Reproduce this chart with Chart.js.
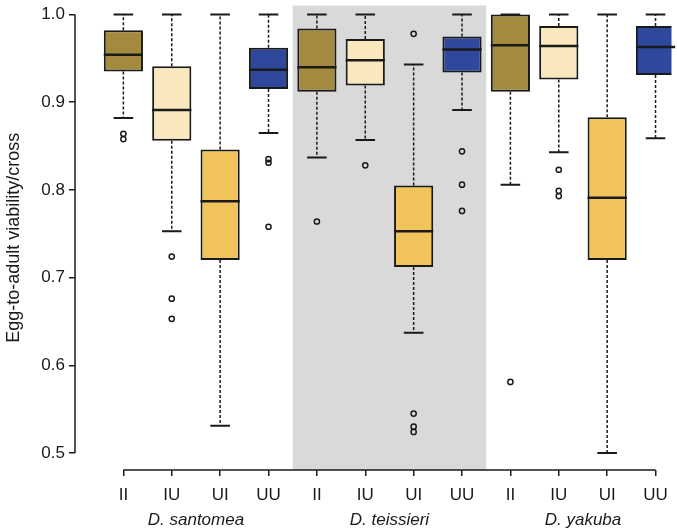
<!DOCTYPE html>
<html>
<head>
<meta charset="utf-8">
<script src="https://cdn.jsdelivr.net/npm/chart.js@4.4.1/dist/chart.umd.min.js"></script>
<style>
  html, body { margin: 0; padding: 0; background: #ffffff; }
  #wrap { width: 677px; height: 531px; }
</style>
</head>
<body>
<div id="wrap"><canvas id="c" width="677" height="531"></canvas></div>
<script>
// ---- data ----
const categories = ['II','IU','UI','UU','II','IU','UI','UU','II','IU','UI','UU'];
const groups = ['D. santomea','D. teissieri','D. yakuba'];
const yTicks = [0.5, 0.6, 0.7, 0.8, 0.9, 1.0];

const whiskerLow  = [0.882, 0.753, 0.531, 0.865, 0.837, 0.857, 0.637, 0.891, 0.806, 0.843, 0.500, 0.859];
const q1          = [0.935, 0.856, 0.720, 0.915, 0.912, 0.919, 0.712, 0.934, 0.912, 0.926, 0.720, 0.931];
const median      = [0.954, 0.891, 0.787, 0.937, 0.940, 0.948, 0.753, 0.960, 0.965, 0.964, 0.791, 0.963];
const q3          = [0.982, 0.941, 0.846, 0.962, 0.984, 0.972, 0.805, 0.975, 1.000, 0.987, 0.883, 0.987];
const whiskerHigh = [1.000, 1.000, 1.000, 1.000, 1.000, 1.000, 0.943, 1.000, 1.000, 1.000, 1.000, 1.000];
const outliers = [
  [0.864, 0.858],
  [0.724, 0.676, 0.653],
  [],
  [0.835, 0.831, 0.758],
  [0.764],
  [0.828],
  [0.978, 0.545, 0.530, 0.524],
  [0.844, 0.806, 0.776],
  [0.581],
  [0.823, 0.799, 0.793],
  [],
  []
];
const genotypeColors = ['#A38A3E', '#F9E8BE', '#F0C45A', '#2E489C'];

// ---- build datasets ----
const boxColors = categories.map((c, i) => genotypeColors[i % 4]);
const boxData = categories.map((c, i) => ({ x: i + 1, y: [q1[i], q3[i]] }));
const outlierData = [];
outliers.forEach((arr, i) => arr.forEach(v => outlierData.push({ x: i + 1, y: v })));

const FONT = '"Liberation Sans", Arial, Helvetica, sans-serif';
const INK = '#1a1a1a';

const zeroPad = s => { s.paddingTop = 0; s.paddingBottom = 0; s.paddingLeft = 0; s.paddingRight = 0; };

const boxPlugin = {
  id: 'boxExtras',
  beforeDatasetsDraw(chart) {
    const { ctx, chartArea: a, scales: { x, y } } = chart;
    ctx.save();
    ctx.fillStyle = '#D9D9D9';
    const gx0 = x.getPixelForValue(4.5), gx1 = x.getPixelForValue(8.5);
    ctx.fillRect(gx0, a.top, gx1 - gx0, a.bottom - a.top);
    const meta = chart.getDatasetMeta(0);
    ctx.strokeStyle = INK;
    categories.forEach((c, i) => {
      const px = x.getPixelForValue(i + 1);
      const w = meta.data[i] ? meta.data[i].width : 38;
      ctx.lineWidth = 1.5;
      ctx.setLineDash([3, 2]);
      ctx.beginPath();
      ctx.moveTo(px, y.getPixelForValue(q3[i]));
      ctx.lineTo(px, y.getPixelForValue(whiskerHigh[i]));
      ctx.moveTo(px, y.getPixelForValue(q1[i]));
      ctx.lineTo(px, y.getPixelForValue(whiskerLow[i]));
      ctx.stroke();
      ctx.setLineDash([]);
      ctx.lineWidth = 2;
      ctx.beginPath();
      const yh = y.getPixelForValue(whiskerHigh[i]);
      const yl = y.getPixelForValue(whiskerLow[i]);
      ctx.moveTo(px - w / 4, yh); ctx.lineTo(px + w / 4, yh);
      ctx.moveTo(px - w / 4, yl); ctx.lineTo(px + w / 4, yl);
      ctx.stroke();
    });
    ctx.restore();
  },
  afterDatasetsDraw(chart) {
    const { ctx, scales: { x, y } } = chart;
    const meta = chart.getDatasetMeta(0);
    ctx.save();
    ctx.strokeStyle = INK;
    ctx.lineWidth = 2.5;
    categories.forEach((c, i) => {
      const px = x.getPixelForValue(i + 1);
      const w = meta.data[i] ? meta.data[i].width : 38;
      const py = y.getPixelForValue(median[i]);
      ctx.beginPath();
      ctx.moveTo(px - w / 2, py); ctx.lineTo(px + w / 2, py);
      ctx.stroke();
    });
    ctx.restore();
  },
  afterDraw(chart) {
    const { ctx, chartArea: a, scales: { x, y } } = chart;
    ctx.save();
    ctx.strokeStyle = INK;
    ctx.lineWidth = 1.5;
    ctx.beginPath();
    ctx.moveTo(a.left, y.getPixelForValue(yTicks[0]));
    ctx.lineTo(a.left, y.getPixelForValue(yTicks[yTicks.length - 1]));
    ctx.moveTo(x.getPixelForValue(1), a.bottom);
    ctx.lineTo(x.getPixelForValue(categories.length), a.bottom);
    ctx.stroke();
    ctx.restore();
  }
};

new Chart(document.getElementById('c'), {
  data: {
    datasets: [
      {
        type: 'bar',
        data: boxData,
        backgroundColor: boxColors,
        borderColor: INK,
        borderWidth: 2,
        borderSkipped: false,
        barPercentage: 1.0,
        categoryPercentage: 0.81,
        order: 2
      },
      {
        type: 'scatter',
        data: outlierData,
        pointRadius: 2.6,
        pointBorderWidth: 1.5,
        pointBackgroundColor: 'rgba(0,0,0,0)',
        pointBorderColor: INK,
        order: 1
      }
    ]
  },
  options: {
    responsive: false,
    animation: false,
    devicePixelRatio: 1,
    layout: { padding: { top: 0, right: 0, bottom: 0, left: 0 } },
    plugins: { legend: { display: false }, tooltip: { enabled: false } },
    scales: {
      x: {
        type: 'linear',
        position: 'bottom',
        weight: 1,
        min: 0,
        max: 12.33,
        offset: false,
        afterBuildTicks: s => { s.ticks = categories.map((c, i) => ({ value: i + 1 })); },
        afterFit: s => { s.height = 37; zeroPad(s); },
        ticks: {
          autoSkip: false, maxRotation: 0, minRotation: 0,
          padding: 9,
          color: INK,
          font: { family: FONT, size: 17 },
          callback: (v, idx) => categories[idx]
        },
        grid: { display: true, drawOnChartArea: false, drawTicks: true, tickLength: 6, color: INK, lineWidth: 1.5, offset: false },
        border: { display: false }
      },
      x2: {
        type: 'linear',
        position: 'bottom',
        weight: 2,
        min: 0,
        max: 12.33,
        offset: false,
        afterBuildTicks: s => { s.ticks = groups.map((g, i) => ({ value: 2.5 + 4 * i })); },
        afterFit: s => { s.height = 24; zeroPad(s); },
        ticks: {
          autoSkip: false, maxRotation: 0, minRotation: 0,
          padding: 3,
          color: INK,
          font: { family: FONT, size: 17, style: 'italic' },
          callback: (v, idx) => groups[idx]
        },
        grid: { display: false, drawTicks: false },
        border: { display: false }
      },
      y: {
        type: 'linear',
        position: 'left',
        min: 0.4806,
        max: 1.0103,
        afterBuildTicks: s => { s.ticks = yTicks.map(v => ({ value: v })); },
        afterFit: s => { s.width = 75; zeroPad(s); },
        ticks: {
          padding: 4,
          color: INK,
          font: { family: FONT, size: 17 },
          callback: v => Number(v).toFixed(1)
        },
        grid: { display: true, drawOnChartArea: false, drawTicks: true, tickLength: 6, color: INK, lineWidth: 1.5 },
        border: { display: false },
        title: {
          display: true,
          text: 'Egg-to-adult viability/cross',
          color: INK,
          font: { family: FONT, size: 18 },
          padding: { top: 3, bottom: 0 }
        }
      }
    }
  },
  plugins: [boxPlugin]
});
</script>
</body>
</html>
